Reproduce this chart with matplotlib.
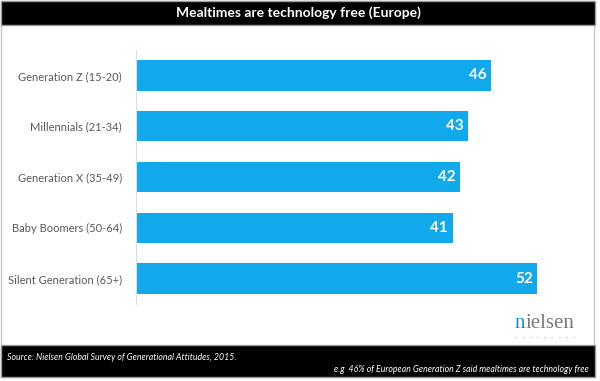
import matplotlib.pyplot as plt
from matplotlib.patches import Rectangle

# data
categories = ["Generation Z (15-20)", "Millennials (21-34)", "Generation X (35-49)",
              "Baby Boomers (50-64)", "Silent Generation (65+)"]
values = [46, 43, 42, 41, 52]

title = "Mealtimes are technology free (Europe)"
source = "Source: Nielsen Global Survey of Generational Attitudes, 2015."
note = "e.g  46% of European Generation Z said mealtimes are technology free"

W, H = 600, 381
bar_color = "#12A9EC"
plt.rcParams['font.family'] = ['Lato', 'DejaVu Sans']

fig = plt.figure(figsize=(W / 100, H / 100), dpi=100)


def fx(px):
    return px / W


def fy(py):
    return 1 - py / H


# frame, title bar and footer band (behind the axes)
fig.patches.append(Rectangle((fx(1), fy(377)), fx(593), 376 / H, transform=fig.transFigure,
                             facecolor="white", edgecolor="#c8c8c8", lw=1, zorder=-2))
fig.patches.append(Rectangle((fx(1), fy(25)), fx(594), 24 / H, transform=fig.transFigure,
                             facecolor="black", edgecolor="#9a9a9a", lw=1, zorder=-1))
fig.patches.append(Rectangle((fx(1), fy(377)), fx(594), 32 / H, transform=fig.transFigure,
                             facecolor="black", edgecolor="#9a9a9a", lw=1, zorder=-1))

fig.text(fx(298), fy(13), title, color="white", fontsize=10, fontweight="bold",
         ha="center", va="center")
fig.text(fx(7), fy(357), source, color="white", fontsize=6.3, style="italic",
         ha="left", va="center")
fig.text(fx(589), fy(370), note, color="white", fontsize=6.3, style="italic",
         ha="right", va="center")

# nielsen logo
fig.text(fx(525), fy(324), "n", color="#1e8fc6", fontsize=15, family="Liberation Serif",
         ha="right", va="center")
fig.text(fx(526), fy(324), "ielsen", color="#7a7a7a", fontsize=15, family="Liberation Serif",
         ha="left", va="center")
for i in range(9):
    fig.text(fx(516 + i * 7.2), fy(336), ".", color="#8a8a8a", fontsize=6,
             ha="center", va="center")

# bars
ax = fig.add_axes([fx(136), fy(304), fx(458), 254 / H])
ypos = range(len(categories))
ax.barh(ypos, values, height=0.6, color=bar_color)
ax.set_xlim(0, 458 / 7.72)
ax.set_ylim(len(categories) - 0.5, -0.5)
ax.set_yticks(list(ypos))
ax.set_yticklabels(categories, fontsize=8, color="#595959")
ax.tick_params(axis="y", length=0, pad=10)
ax.set_xticks([])
for s in ["top", "right", "bottom"]:
    ax.spines[s].set_visible(False)
ax.spines["left"].set_color("#dcdcdc")
ax.spines["left"].set_linewidth(0.8)
ax.patch.set_alpha(0)

for y, v in zip(ypos, values):
    ax.text(v - 0.6, y, str(v), color="white", fontsize=11, fontweight="bold",
            ha="right", va="center")

fig.savefig("out.png", dpi=100)
